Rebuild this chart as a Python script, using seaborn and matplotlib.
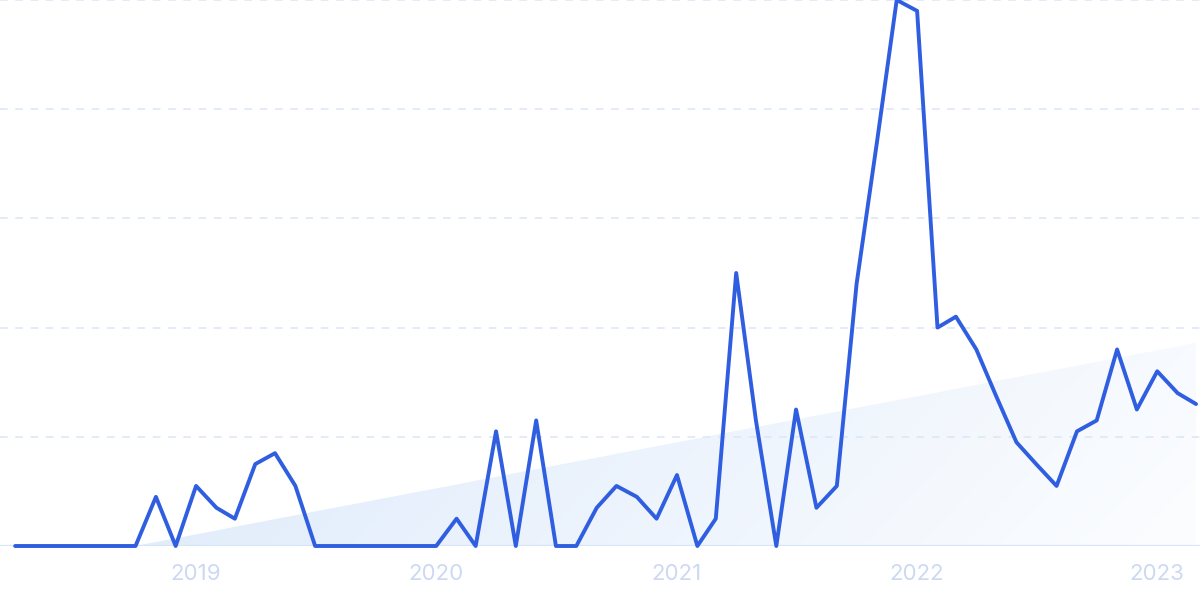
import numpy as np
import pandas as pd
import matplotlib.pyplot as plt
import matplotlib.dates as mdates
import seaborn as sns

# monthly index values, Apr 2018 - Mar 2023
months = pd.date_range("2018-04-01", periods=60, freq="MS")
values = [0, 0, 0, 0, 0, 0, 0, 9, 0, 11, 7, 5, 15, 17, 11, 0, 0, 0, 0, 0,
          0, 0, 5, 0, 21, 0, 23, 0, 0, 7, 11, 9, 5, 13, 0, 5, 50, 23, 0, 25,
          7, 11, 48, 74, 100, 98, 40, 42, 36, 27.5, 19, 15, 11, 21, 23, 36, 25, 32, 28, 26]
year_ticks = ["2019", "2020", "2021", "2022", "2023"]

df = pd.DataFrame({"month": months, "value": values})

sns.set_style("white")
plt.rcParams["font.family"] = ["Inter", "DejaVu Sans"]

fig = plt.figure(figsize=(12, 5.99), dpi=100)
ax = fig.add_axes([0, 53 / 599, 1, 1 - 53 / 599])

# linear trend, clipped at zero, shaded with a fading gradient
idx = np.arange(len(values))
slope, icpt = np.polyfit(idx, values, 1)
trend = np.clip(slope * idx + icpt, 0, None)
x_num = mdates.date2num(months)
poly = ax.fill_between(x_num, 0, trend, color="none", lw=0)
grad = np.zeros((100, 200, 4))
gx = np.linspace(0, 1, 200)[None, :]
gy = np.linspace(0, 1, 100)[:, None]
grad[..., 0] = 0.87
grad[..., 1] = 0.92
grad[..., 2] = 0.985
grad[..., 3] = np.clip(0.95 - 0.85 * gx + 0.15 * gy, 0, 1)
img = ax.imshow(grad, extent=[x_num[0], x_num[-1], 0, 40], origin="lower",
                aspect="auto", zorder=1)
img.set_clip_path(poly.get_paths()[0], transform=ax.transData)

sns.lineplot(data=df, x="month", y="value", ax=ax, color="#2f5ee0",
             linewidth=2.8, zorder=3, clip_on=False)

ax.set_ylim(0, 100)
ax.set_xlim(months[0] - pd.Timedelta(days=23), months[-1] + pd.Timedelta(days=6))
for v in [20, 40, 60, 80, 100]:
    ax.axhline(v, color="#dbe6f8", lw=1.1, ls=(0, (5, 5)), zorder=2)
ax.axhline(0, color="#d6e5f9", lw=1.6, zorder=2)

ax.set_xticks([pd.Timestamp(f"{y}-01-01") for y in year_ticks])
ax.set_xticklabels(year_ticks)
ax.tick_params(axis="x", length=0, pad=13, labelsize=16, labelcolor="#cdd8f3")
ax.set_yticks([])
ax.set_xlabel("")
ax.set_ylabel("")
for s in ax.spines.values():
    s.set_visible(False)

fig.savefig("out.png", dpi=100)
